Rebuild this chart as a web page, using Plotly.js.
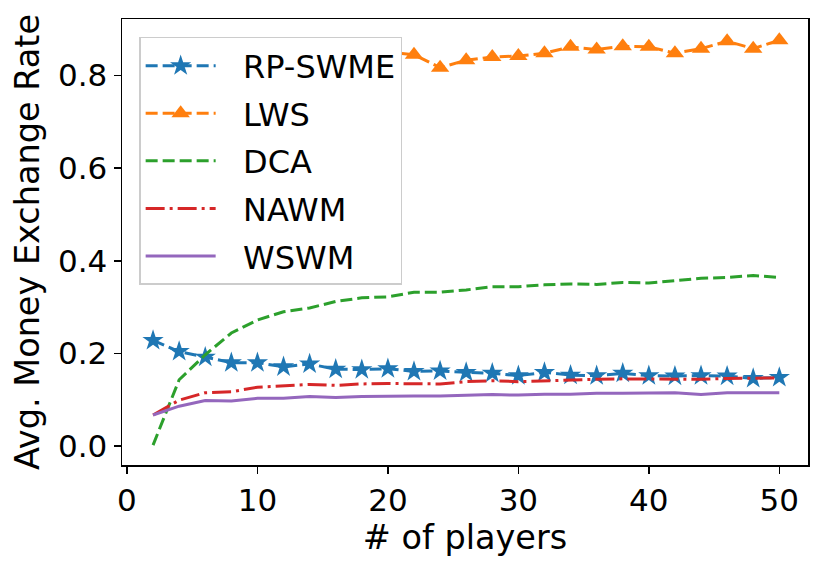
<!DOCTYPE html>
<html>
<head>
<meta charset="utf-8">
<script src="https://cdn.plot.ly/plotly-3.0.1.min.js"></script>
<style>
    html, body { margin: 0; padding: 0; background: #ffffff; }
    #chart { width: 830px; height: 568px; }
</style>
</head>
<body>
<div id="chart"></div>
<script>
"use strict";

const players = [2, 4, 6, 8, 10, 12, 14, 16, 18, 20, 22, 24, 26,
    28, 30, 32, 34, 36, 38, 40, 42, 44, 46, 48, 50];

const rpSwme = [0.228, 0.204, 0.192, 0.180, 0.180, 0.171, 0.177, 0.166,
    0.165, 0.167, 0.161, 0.162, 0.159, 0.157, 0.152, 0.159, 0.153, 0.152,
    0.157, 0.152, 0.151, 0.152, 0.151, 0.146, 0.148];

const lws = [0.840, 0.830, 0.850, 0.840, 0.830, 0.850, 0.840, 0.850,
    0.840, 0.850, 0.845, 0.817, 0.833, 0.840, 0.842, 0.848, 0.862, 0.856,
    0.863, 0.862, 0.848, 0.858, 0.874, 0.858, 0.876];

const dca = [0.002, 0.143, 0.197, 0.244, 0.272, 0.290, 0.298, 0.312,
    0.320, 0.322, 0.332, 0.332, 0.337, 0.344, 0.344, 0.348, 0.350, 0.349,
    0.353, 0.352, 0.357, 0.362, 0.364, 0.368, 0.364];

const nawm = [0.067, 0.099, 0.115, 0.117, 0.127, 0.130, 0.133, 0.131,
    0.134, 0.135, 0.135, 0.134, 0.139, 0.141, 0.139, 0.141, 0.143, 0.144,
    0.145, 0.145, 0.145, 0.144, 0.146, 0.146, 0.147];

const wswm = [0.067, 0.086, 0.098, 0.097, 0.103, 0.103, 0.107, 0.105,
    0.107, 0.108, 0.108, 0.108, 0.110, 0.111, 0.110, 0.112, 0.112, 0.114,
    0.114, 0.115, 0.115, 0.111, 0.115, 0.115, 0.115];

const seriesNames = ["RP-SWME", "LWS", "DCA", "NAWM", "WSWM"];

const font = "DejaVu Sans, sans-serif";

// pad legend labels so the text sits clear of the line sample
const pad = "\u2002\u2009";

const traces = [
    {
        name: pad + seriesNames[0],
        legendgroup: "a",
        x: players,
        y: rpSwme,
        mode: "lines+markers",
        line: { color: "#1f77b4", width: 3, dash: "12px,5px" },
        marker: { symbol: "star", size: 16, color: "#1f77b4" },
    },
    {
        name: pad + seriesNames[1],
        legendgroup: "b",
        x: players,
        y: lws,
        mode: "lines+markers",
        line: { color: "#ff7f0e", width: 3, dash: "12px,5px" },
        marker: { symbol: "triangle-up", size: 16, color: "#ff7f0e" },
    },
    {
        name: pad + seriesNames[2],
        legendgroup: "c",
        x: players,
        y: dca,
        mode: "lines",
        line: { color: "#2ca02c", width: 3, dash: "12px,5px" },
    },
    {
        name: pad + seriesNames[3],
        legendgroup: "d",
        x: players,
        y: nawm,
        mode: "lines",
        line: { color: "#d62728", width: 3, dash: "19px,5px,3px,5px" },
    },
    {
        name: pad + seriesNames[4],
        legendgroup: "e",
        x: players,
        y: wswm,
        mode: "lines",
        line: { color: "#9467bd", width: 3 },
    },
];

const axisCommon = {
    showgrid: false,
    zeroline: false,
    showline: true,
    linecolor: "#000000",
    linewidth: 1.5,
    mirror: true,
    ticks: "outside",
    ticklen: 7,
    tickwidth: 1.5,
    tickcolor: "#000000",
    tickfont: { family: font, size: 31, color: "#000000" },
};

Plotly.newPlot(
    "chart",
    traces,
    {
        width: 830,
        height: 568,
        margin: { l: 122, r: 22, t: 19, b: 103 },
        paper_bgcolor: "#ffffff",
        plot_bgcolor: "#ffffff",
        font: { family: font, color: "#000000" },
        xaxis: Object.assign({}, axisCommon, {
            range: [-0.38, 52.2],
            tickvals: [0, 10, 20, 30, 40, 50],
            title: {
                text: "# of players",
                font: { family: font, size: 33.5, color: "#000000" },
                standoff: 6,
            },
        }),
        yaxis: Object.assign({}, axisCommon, {
            range: [-0.041, 0.922],
            tickvals: [0, 0.2, 0.4, 0.6, 0.8],
            tickformat: ".1f",
            title: {
                text: "Avg. Money Exchange Rate",
                font: { family: font, size: 33.5, color: "#000000" },
                standoff: 8,
            },
        }),
        legend: {
            x: 0.025,
            y: 0.96,
            xanchor: "left",
            yanchor: "top",
            bgcolor: "#ffffff",
            bordercolor: "#cccccc",
            borderwidth: 1.5,
            itemwidth: 70,
            traceorder: "grouped",
            tracegroupgap: 3,
            font: { family: font, size: 32, color: "#000000" },
        },
        showlegend: true,
    },
    { displayModeBar: false, staticPlot: true }
);
</script>
</body>
</html>
